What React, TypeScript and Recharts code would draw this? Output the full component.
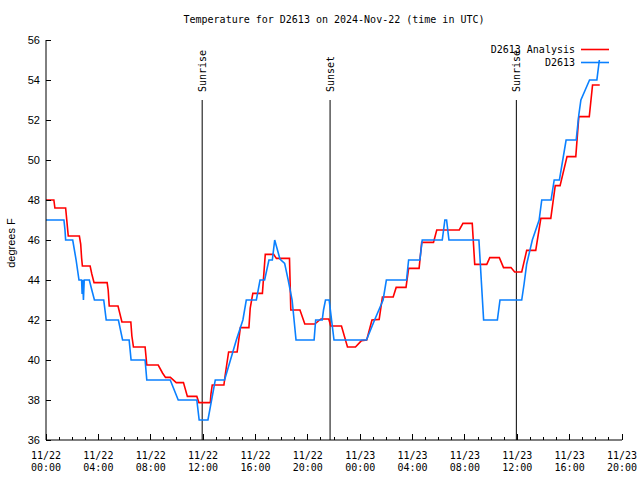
import { LineChart, Line, XAxis, YAxis, ReferenceLine } from 'recharts';

// hours since 11/22 00:00 UTC
const analysisHours = [0, 0.6, 0.68, 1.5, 1.6, 1.7, 2.55, 2.65, 2.72, 2.78, 3.37, 3.5, 3.67, 4.67, 4.75, 4.83, 5.5, 5.8, 6.48, 6.56, 6.68, 7.57, 7.7, 8.57, 8.9, 9.13, 9.5, 9.95, 10.5, 10.8, 11.52, 11.68, 12.55, 12.6, 12.7, 13.59, 13.7, 13.95, 14.6, 14.85, 15.5, 15.6, 15.8, 16.53, 16.75, 17.39, 17.6, 18.6, 18.7, 19.4, 19.77, 20.53, 21.0, 21.6, 21.75, 22.57, 23.03, 23.64, 24.1, 24.5, 24.9, 25.45, 25.7, 26.52, 26.75, 27.5, 27.7, 28.5, 28.7, 29.6, 29.85, 31.57, 31.85, 32.56, 32.75, 33.67, 33.9, 34.63, 34.95, 35.52, 35.8, 36.34, 36.72, 37.41, 37.8, 38.56, 38.9, 39.27, 39.8, 40.47, 40.7, 41.5, 41.75, 42.3];
const analysisTemps = [48.0, 48.0, 47.6, 47.6, 46.9, 46.2, 46.2, 45.8, 45.1, 44.7, 44.7, 44.3, 43.87, 43.87, 43.5, 42.7, 42.7, 41.9, 41.9, 41.2, 40.65, 40.65, 39.75, 39.75, 39.35, 39.13, 39.13, 38.87, 38.87, 38.18, 38.18, 37.87, 37.87, 38.3, 38.75, 38.75, 39.3, 40.4, 40.4, 41.62, 41.62, 42.6, 43.33, 43.33, 45.28, 45.28, 45.08, 45.08, 42.5, 42.5, 41.8, 41.8, 42.05, 42.05, 41.7, 41.7, 40.65, 40.65, 40.97, 41.0, 42.0, 42.03, 43.15, 43.15, 43.63, 43.63, 44.58, 44.58, 45.88, 45.88, 46.5, 46.5, 46.83, 46.83, 44.78, 44.78, 45.12, 45.12, 44.62, 44.62, 44.4, 44.4, 45.48, 45.48, 47.08, 47.08, 48.72, 48.72, 50.17, 50.17, 52.17, 52.17, 53.75, 53.75];

const stationHours = [0, 1.37, 1.45, 1.5, 2.04, 2.3, 2.52, 2.72, 2.76, 2.8, 2.86, 2.92, 3.31, 3.5, 3.7, 4.41, 4.6, 5.53, 5.85, 6.35, 6.5, 7.57, 7.7, 9.49, 10.1, 11.52, 11.7, 12.37, 12.93, 13.64, 14.54, 15.04, 15.3, 16.07, 16.35, 16.7, 17.03, 17.29, 17.47, 17.87, 18.23, 18.49, 18.8, 19.1, 20.48, 20.6, 21.1, 21.2, 21.35, 21.63, 22.0, 24.48, 25.1, 25.75, 26.0, 27.54, 27.7, 28.56, 28.74, 30.27, 30.47, 30.6, 30.78, 33.07, 33.43, 34.48, 34.68, 36.34, 36.52, 36.72, 37.15, 37.67, 37.87, 38.58, 38.82, 39.22, 39.73, 40.5, 40.7, 40.86, 41.19, 41.52, 42.08, 42.27];
const stationTemps = [47, 47, 46.5, 46, 46, 45, 44, 44, 43.3, 44, 43, 44, 44, 43.5, 43, 43, 42, 42, 41, 41, 40, 40, 39, 39, 38, 38, 37, 37, 39, 39, 41, 42, 43, 43, 44, 44, 45, 45, 46, 45.05, 44.83, 44.03, 43, 41, 41, 42, 42, 42.5, 43, 43, 41, 41, 42, 43, 44, 44, 45, 45, 46, 46, 47, 47, 46, 46, 42, 42, 43, 43, 43.8, 44.8, 46, 47, 48, 48, 49, 49, 51, 51, 52.25, 53, 53.5, 54, 54, 55];

const hourTicks = [0, 1, 2, 3, 4, 5, 6, 7, 8, 9, 10, 11, 12, 13, 14, 15, 16, 17, 18, 19, 20, 21, 22, 23, 24, 25, 26, 27, 28, 29, 30, 31, 32, 33, 34, 35, 36, 37, 38, 39, 40, 41, 42, 43, 44];
const tempTicks = [36, 38, 40, 42, 44, 46, 48, 50, 52, 54, 56];

const sunHours = [11.93, 21.7, 35.93];
const sunLabels = ['Sunrise', 'Sunset', 'Sunrise'];

const seriesNames = ['D2613 Analysis', 'D2613'];
const seriesColors = ['#ff0000', '#0a80ff'];

const MONO = '"DejaVu Sans Mono", "Liberation Mono", monospace';
const SANS = '"Liberation Sans", Arial, sans-serif';

const analysisData = analysisHours.map((h, i) => ({ h, t: analysisTemps[i] }));
const stationData = stationHours.map((h, i) => ({ h, t: stationTemps[i] }));

function BottomTick({ x, y, payload }: any) {
  const h = payload.value;
  const major = h % 4 === 0;
  const day = 22 + Math.floor(h / 24);
  const hh = String(h % 24).padStart(2, '0');
  return (
    <g>
      <line x1={x} y1={y} x2={x} y2={y - (major ? 6 : 3)} stroke="#000" shapeRendering="crispEdges" />
      {major ? (
        <text x={x} y={y} textAnchor="middle" fontFamily={MONO} fontSize={10} fill="#000">
          <tspan x={x} dy={18.5}>{`11/${day}`}</tspan>
          <tspan x={x} dy={12.5}>{`${hh}:00`}</tspan>
        </text>
      ) : null}
    </g>
  );
}

function TopTick({ x, y, payload }: any) {
  const major = payload.value % 4 === 0;
  return <line x1={x} y1={y} x2={x} y2={y + (major ? 6 : 3)} stroke="#000" shapeRendering="crispEdges" />;
}

function LeftTick({ x, y, payload }: any) {
  return (
    <g>
      <line x1={x} y1={y} x2={x + 5} y2={y} stroke="#000" shapeRendering="crispEdges" />
      <text x={x - 6} y={y} dy="0.36em" textAnchor="end" fontFamily={SANS} fontSize={11} fill="#000">
        {payload.value}
      </text>
    </g>
  );
}

function RightTick({ x, y }: any) {
  return <line x1={x} y1={y} x2={x - 5} y2={y} stroke="#000" shapeRendering="crispEdges" />;
}

function SunLabel({ viewBox, text }: any) {
  const x = viewBox.x;
  const y = viewBox.y - 8;
  return (
    <text
      x={x}
      y={y}
      transform={`rotate(-90 ${x} ${y})`}
      textAnchor="start"
      dominantBaseline="central"
      fontFamily={MONO}
      fontSize={10}
      fill="#000"
    >
      {text}
    </text>
  );
}

export default function App() {
  return (
    <div style={{ position: 'absolute', left: 0, top: 0, width: 640, height: 480, background: '#fff' }}>
      <LineChart width={640} height={480} margin={{ top: 40, right: 18, bottom: 0, left: 0 }}>
        <XAxis
          type="number"
          dataKey="h"
          domain={[0, 44]}
          ticks={hourTicks}
          interval={0}
          allowDataOverflow
          height={40}
          tickSize={0}
          tickMargin={0}
          tickLine={false}
          tick={<BottomTick />}
          axisLine={{ stroke: '#000' }}
        />
        <XAxis
          xAxisId="top"
          orientation="top"
          type="number"
          dataKey="h"
          domain={[0, 44]}
          ticks={hourTicks}
          interval={0}
          allowDataOverflow
          height={0}
          tickSize={0}
          tickMargin={0}
          tickLine={false}
          tick={<TopTick />}
          axisLine={{ stroke: '#000' }}
        />
        <YAxis
          type="number"
          domain={[36, 56]}
          ticks={tempTicks}
          interval={0}
          allowDataOverflow
          width={46}
          tickSize={0}
          tickMargin={0}
          tickLine={false}
          tick={<LeftTick />}
          axisLine={{ stroke: '#000' }}
        />
        <YAxis
          yAxisId="right"
          orientation="right"
          type="number"
          domain={[36, 56]}
          ticks={tempTicks}
          interval={0}
          allowDataOverflow
          width={0}
          tickSize={0}
          tickMargin={0}
          tickLine={false}
          tick={<RightTick />}
          axisLine={{ stroke: '#000' }}
        />
        {sunHours.map((h, i) => (
          <ReferenceLine
            key={`sun-${i}`}
            segment={[{ x: h, y: 36 }, { x: h, y: 53 }]}
            stroke="#000"
            strokeWidth={1}
            label={(p: any) => <SunLabel viewBox={p.viewBox} text={sunLabels[i]} />}
          />
        ))}
        <Line
          data={analysisData}
          dataKey="t"
          name={seriesNames[0]}
          type="linear"
          stroke={seriesColors[0]}
          strokeWidth={1.6}
          dot={false}
          isAnimationActive={false}
        />
        <Line
          data={stationData}
          dataKey="t"
          name={seriesNames[1]}
          type="linear"
          stroke={seriesColors[1]}
          strokeWidth={1.6}
          dot={false}
          isAnimationActive={false}
        />
      </LineChart>
      <svg width={640} height={480} style={{ position: 'absolute', left: 0, top: 0, pointerEvents: 'none' }}>
        <text x={334} y={23} textAnchor="middle" fontFamily={MONO} fontSize={10} fill="#000">
          Temperature for D2613 on 2024-Nov-22 (time in UTC)
        </text>
        <text
          x={11}
          y={243}
          transform="rotate(-90 11 243)"
          textAnchor="middle"
          dominantBaseline="central"
          fontFamily={SANS}
          fontSize={11}
          fill="#000"
        >
          degrees F
        </text>
        {seriesNames.map((name, i) => (
          <g key={name}>
            <text x={575} y={53 + 13 * i} textAnchor="end" fontFamily={MONO} fontSize={10} fill="#000">
              {name}
            </text>
            <line x1={581} x2={609} y1={49.5 + 13 * i} y2={49.5 + 13 * i} stroke={seriesColors[i]} strokeWidth={1.6} />
          </g>
        ))}
      </svg>
    </div>
  );
}
